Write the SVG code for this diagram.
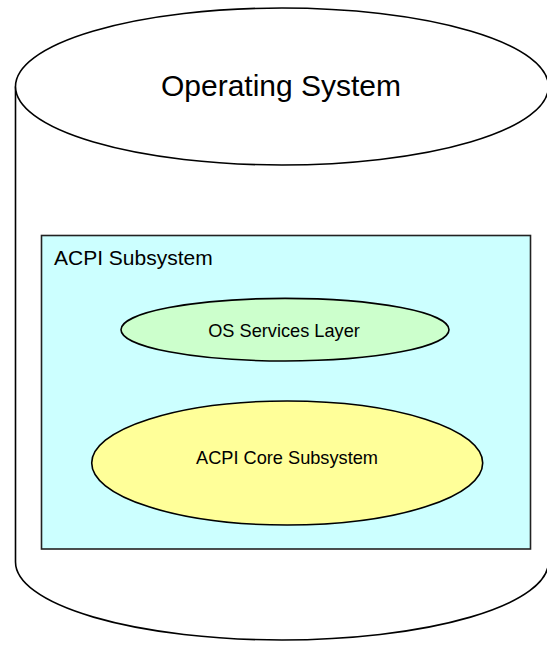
<svg xmlns="http://www.w3.org/2000/svg" width="547" height="645" viewBox="0 0 547 645">
<style>
.lbl{font-family:"Liberation Sans",Arial,Helvetica,sans-serif;fill:#000}
.shape{stroke:#000;stroke-width:1.6}
</style>
<rect width="547" height="645" fill="#fff"/>
<g id="operating-system">
<path class="shape" fill="#fff" d="M15.5 86.5 L15.5 562 A266.5 78 0 0 0 548.5 562 L548.5 86.5"/>
<ellipse class="shape" fill="#fff" cx="282" cy="86.5" rx="266.5" ry="78.5"/>
<text class="lbl" x="281" y="96" font-size="30" text-anchor="middle">Operating System</text>
</g>
<g id="acpi-subsystem">
<rect x="41.5" y="235.5" width="489" height="313.5" fill="#ccffff" stroke="#222" stroke-width="1.6"/>
<text class="lbl" x="54" y="265" font-size="21">ACPI Subsystem</text>
</g>
<g id="os-services-layer">
<ellipse class="shape" fill="#ccffcc" cx="285" cy="329.7" rx="164" ry="31.3"/>
<text class="lbl" x="284" y="337" font-size="18.2" text-anchor="middle">OS Services Layer</text>
</g>
<g id="acpi-core-subsystem">
<ellipse class="shape" fill="#ffff99" cx="287.2" cy="463" rx="195.5" ry="62"/>
<text class="lbl" x="287" y="463.5" font-size="18.2" text-anchor="middle">ACPI Core Subsystem</text>
</g>
<g id="connectors"></g>
</svg>
